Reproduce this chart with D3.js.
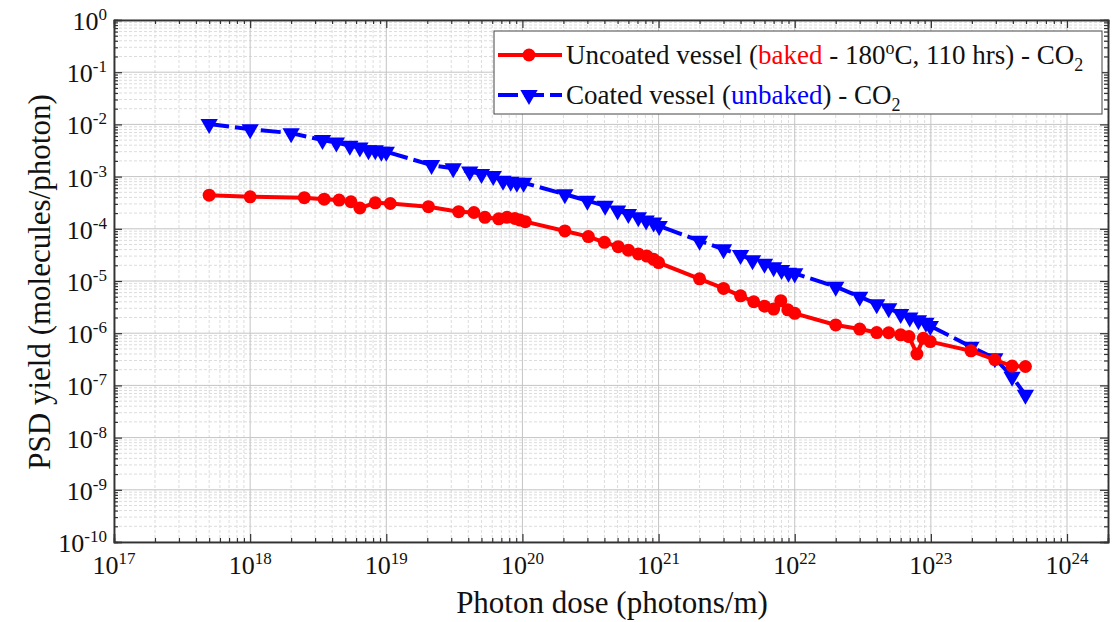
<!DOCTYPE html>
<html><head><meta charset="utf-8">
<script src="https://cdn.jsdelivr.net/npm/d3@7"></script>
<style>body{margin:0;background:#fff}svg{display:block}text{font-family:"Liberation Serif","Times New Roman",serif}</style>
</head><body>
<svg id="c" width="1114" height="622"></svg>
<script>
const uncoatedDose = [5e17,1e18,2.5e18,3.5e18,4.5e18,5.5e18,6.4e18,8.3e18,1.07e19,2.04e19,3.4e19,4.4e19,5.3e19,6.7e19,7.7e19,8.8e19,9.6e19,1.05e20,2.05e20,3.05e20,4e20,5.05e20,6e20,7.1e20,8.2e20,9.2e20,1e21,2e21,3e21,4e21,5e21,6e21,7e21,7.9e21,8.9e21,1e22,2e22,3e22,4e22,4.9e22,6e22,6.9e22,7.9e22,8.8e22,9.9e22,1.97e23,2.95e23,3.95e23,4.95e23];
const uncoatedYield = [4.4e-4,4.1e-4,3.95e-4,3.7e-4,3.55e-4,3.3e-4,2.5e-4,3.15e-4,3.05e-4,2.65e-4,2.13e-4,2.05e-4,1.66e-4,1.55e-4,1.66e-4,1.58e-4,1.47e-4,1.37e-4,9.1e-5,7.1e-5,5.5e-5,4.55e-5,3.9e-5,3.3e-5,3.0e-5,2.6e-5,2.25e-5,1.1e-5,7.2e-6,5.2e-6,4.0e-6,3.3e-6,2.9e-6,4.2e-6,2.8e-6,2.4e-6,1.44e-6,1.2e-6,1.03e-6,1.02e-6,9.3e-7,8.6e-7,4.0e-7,8.0e-7,6.9e-7,4.6e-7,3.1e-7,2.35e-7,2.3e-7];
const coatedDose = [5e17,1e18,2e18,3.4e18,4.3e18,5.4e18,6.4e18,7.4e18,8.3e18,9.2e18,1e19,2.15e19,3.1e19,4.1e19,5e19,6.1e19,7.2e19,8.2e19,9.1e19,1.02e20,2.05e20,3e20,4.05e20,5e20,6e20,7.1e20,8.1e20,9.2e20,1.01e21,2e21,3e21,4e21,4.9e21,6e21,7e21,8e21,9e21,1e22,2e22,3e22,4e22,4.9e22,6e22,7e22,8.1e22,9.2e22,9.9e22,1.97e23,2.95e23,3.95e23,4.95e23];
const coatedYield = [1.02e-2,8.1e-3,6.8e-3,5.0e-3,4.5e-3,3.9e-3,3.6e-3,3.2e-3,3.2e-3,3.0e-3,3.0e-3,1.66e-3,1.44e-3,1.25e-3,1.12e-3,1.03e-3,8.3e-4,8.0e-4,7.6e-4,7.6e-4,4.6e-4,3.45e-4,2.75e-4,2.24e-4,1.92e-4,1.66e-4,1.44e-4,1.32e-4,1.13e-4,5.9e-5,4.05e-5,3.15e-5,2.5e-5,2.13e-5,1.83e-5,1.62e-5,1.44e-5,1.4e-5,7.8e-6,5.0e-6,3.6e-6,3.0e-6,2.33e-6,2.0e-6,1.78e-6,1.58e-6,1.38e-6,5.5e-7,3.3e-7,1.47e-7,6.6e-8];
const xTickExps = [17,18,19,20,21,22,23,24];
const yTickExps = [0,-1,-2,-3,-4,-5,-6,-7,-8,-9,-10];

const svg = d3.select("#c");
const L=114,R=1108,T=20,B=542;
const x = d3.scaleLog().domain([1e17,2e24]).range([L,R]);
const y = d3.scaleLog().domain([1e-10,1]).range([B,T]);

const xMinor=[],yMinor=[];
for(let e=17;e<=24;e++)for(let m=2;m<=9;m++){const v=m*Math.pow(10,e); if(v<=2e24) xMinor.push(v);}
for(let e=-10;e<0;e++)for(let m=2;m<=9;m++)yMinor.push(m*Math.pow(10,e));
const xMajor=xTickExps.map(e=>Math.pow(10,e)), yMajor=yTickExps.map(e=>Math.pow(10,e));

const g=svg.append("g");
g.selectAll(".xmg").data(xMinor).join("line").attr("x1",d=>x(d)).attr("x2",d=>x(d)).attr("y1",T).attr("y2",B)
 .attr("stroke","#dcdcdc").attr("stroke-width",1).attr("stroke-dasharray","3,2");
g.selectAll(".ymg").data(yMinor).join("line").attr("y1",d=>y(d)).attr("y2",d=>y(d)).attr("x1",L).attr("x2",R)
 .attr("stroke","#dcdcdc").attr("stroke-width",1).attr("stroke-dasharray","3,2");
g.selectAll(".xMg").data(xMajor).join("line").attr("x1",d=>x(d)).attr("x2",d=>x(d)).attr("y1",T).attr("y2",B)
 .attr("stroke","#c4c4c4").attr("stroke-width",1);
g.selectAll(".yMg").data(yMajor).join("line").attr("y1",d=>y(d)).attr("y2",d=>y(d)).attr("x1",L).attr("x2",R)
 .attr("stroke","#c4c4c4").attr("stroke-width",1);

const fmt=()=> "";
svg.append("g").attr("transform",`translate(0,${B})`).call(d3.axisBottom(x).tickValues(xMajor).tickSize(-8).tickFormat(fmt));
svg.append("g").attr("transform",`translate(0,${B})`).call(d3.axisBottom(x).tickValues(xMinor).tickSize(-4).tickFormat(fmt));
svg.append("g").attr("transform",`translate(0,${T})`).call(d3.axisTop(x).tickValues(xMajor).tickSize(-8).tickFormat(fmt));
svg.append("g").attr("transform",`translate(0,${T})`).call(d3.axisTop(x).tickValues(xMinor).tickSize(-4).tickFormat(fmt));
svg.append("g").attr("transform",`translate(${L},0)`).call(d3.axisLeft(y).tickValues(yMajor).tickSize(-8).tickFormat(fmt));
svg.append("g").attr("transform",`translate(${L},0)`).call(d3.axisLeft(y).tickValues(yMinor).tickSize(-4).tickFormat(fmt));
svg.append("g").attr("transform",`translate(${R},0)`).call(d3.axisRight(y).tickValues(yMajor).tickSize(-8).tickFormat(fmt));
svg.append("g").attr("transform",`translate(${R},0)`).call(d3.axisRight(y).tickValues(yMinor).tickSize(-4).tickFormat(fmt));
svg.selectAll(".domain").attr("stroke","#333").attr("stroke-width",1.5);
svg.selectAll(".tick line").attr("stroke","#333").attr("stroke-width",1.2);

xTickExps.forEach(e=>{
  const t=svg.append("text").attr("x",x(Math.pow(10,e))).attr("y",574).attr("text-anchor","middle").attr("font-size",26).attr("fill","#111");
  t.append("tspan").text("10");
  t.append("tspan").attr("dy",-10).attr("font-size",17).text(e);
});
yTickExps.forEach(e=>{
  const t=svg.append("text").attr("x",L-7).attr("y",y(Math.pow(10,e))+10).attr("text-anchor","end").attr("font-size",26).attr("fill","#111");
  t.append("tspan").text("10");
  t.append("tspan").attr("dy",-10).attr("font-size",17).text(e);
});

svg.append("text").attr("x",612).attr("y",613).attr("text-anchor","middle").attr("font-size",31).attr("fill","#111").text("Photon dose (photons/m)");
svg.append("text").attr("transform","translate(50,282) rotate(-90)").attr("text-anchor","middle").attr("font-size",31).attr("fill","#111").text("PSD yield (molecules/photon)");

const red=uncoatedDose.map((d,i)=>[d,uncoatedYield[i]]);
const blue=coatedDose.map((d,i)=>[d,coatedYield[i]]);
const line=d3.line().x(d=>x(d[0])).y(d=>y(d[1]));
const tri=d3.symbol().type(d3.symbolTriangle).size(130);

svg.append("path").datum(blue).attr("d",line).attr("fill","none").attr("stroke","#0000ff").attr("stroke-width",4).attr("stroke-dasharray","20,6");
svg.selectAll(".bm").data(blue).join("path").attr("d",tri).attr("transform",d=>`translate(${x(d[0])},${y(d[1])}) rotate(180)`).attr("fill","#0000ff");
svg.append("path").datum(red).attr("d",line).attr("fill","none").attr("stroke","#ff0000").attr("stroke-width",4);
svg.selectAll(".rm").data(red).join("circle").attr("cx",d=>x(d[0])).attr("cy",d=>y(d[1])).attr("r",6.5).attr("fill","#ff0000");

const lg=svg.append("g");
lg.append("rect").attr("x",494).attr("y",31).attr("width",608).attr("height",83).attr("fill","#fff").attr("stroke","#444").attr("stroke-width",1);
lg.append("line").attr("x1",498).attr("x2",562).attr("y1",55).attr("y2",55).attr("stroke","#ff0000").attr("stroke-width",4);
lg.append("circle").attr("cx",529).attr("cy",55).attr("r",6.5).attr("fill","#ff0000");
lg.append("line").attr("x1",498).attr("x2",562).attr("y1",95).attr("y2",95).attr("stroke","#0000ff").attr("stroke-width",4).attr("stroke-dasharray","20,6");
lg.append("path").attr("d",tri).attr("transform","translate(529,95) rotate(180)").attr("fill","#0000ff");
const t1=lg.append("text").attr("x",566).attr("y",64).attr("font-size",27).attr("fill","#111");
t1.append("tspan").text("Uncoated vessel (");
t1.append("tspan").attr("fill","#ff0000").text("baked");
t1.append("tspan").text(" - 180");
t1.append("tspan").attr("dy",-10).attr("font-size",18).text("o");
t1.append("tspan").attr("dy",10).text("C, 110 hrs) - CO");
t1.append("tspan").attr("dy",7).attr("font-size",18).text("2");
const t2=lg.append("text").attr("x",566).attr("y",104).attr("font-size",27).attr("fill","#111");
t2.append("tspan").text("Coated vessel (");
t2.append("tspan").attr("fill","#0000ff").text("unbaked");
t2.append("tspan").text(") - CO");
t2.append("tspan").attr("dy",7).attr("font-size",18).text("2");
</script>
</body></html>
